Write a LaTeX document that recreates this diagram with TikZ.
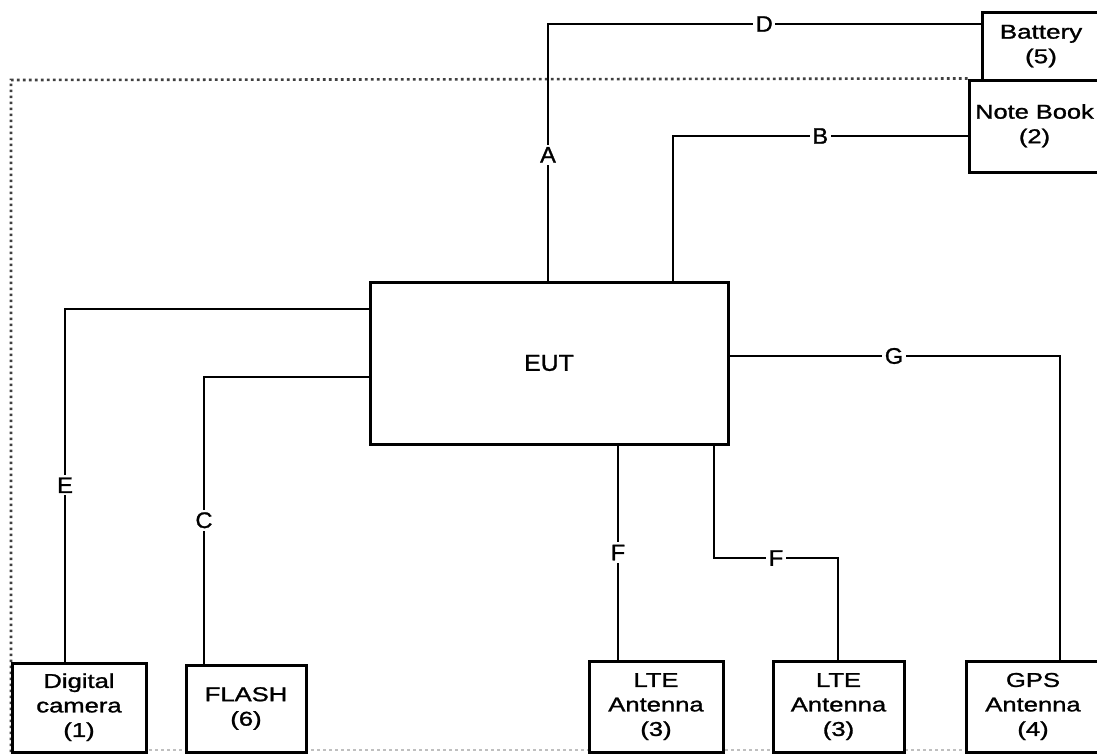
\documentclass[tikz,border=0pt]{standalone}
\usepackage{fontspec}
\setmainfont{Liberation Sans}[FakeBold=1.1]
\usepackage{graphicx}
\newcommand\stk[2][1.28]{\scalebox{#1}[1]{\begin{tabular}{@{}c@{}}#2\end{tabular}}}
\tikzset{
  boxnode/.style={draw=black, line width=3pt, fill=white, inner sep=0pt,
    font=\fontsize{20}{24.5}\selectfont},
  conn/.style={draw=black, line width=2.8pt},
  lab/.style={fill=white, inner sep=2.5pt, font=\fontsize{22.5}{24}\selectfont},
  border/.style={draw=black!75, line width=2.6pt, dash pattern=on 2.6pt off 3.4pt}
}
\newcommand\lb[1]{\scalebox{1.05}[1]{#1}}
\begin{document}
\begin{tikzpicture}[x=1pt, y=-1pt]
\useasboundingbox (0,0) rectangle (1097,753);
\clip (0,0) rectangle (1097,753);
\fill[white] (0,0) rectangle (1097,753);
% faint bottom dotted line
\draw[border, draw=black!25] (11,750) -- (1097,750);
% boxes
\node[boxnode, minimum width=118pt, minimum height=68pt] (bat) at (1041,46) {\stk[1.3]{Battery\\(5)}};
\node[boxnode, minimum width=131pt, minimum height=92pt] (nb) at (1034.5,126) {\stk[1.27]{Note Book\\(2)}};
\draw[border] (nb.north west) -- (11,80) coordinate (tl) -- (11,753) coordinate (bl);
\node[boxnode, minimum width=358pt, minimum height=162pt, font=\fontsize{23}{26}\selectfont] (eut) at (549,363) {\scalebox{1.08}[1]{EUT}};
\node[boxnode, minimum width=134pt, minimum height=89pt] (cam) at (79,707.5) {\stk{Digital\\camera\\(1)}};
\node[boxnode, minimum width=120pt, minimum height=87pt] (fl) at (246,708.5) {\stk{FLASH\\(6)}};
\node[boxnode, minimum width=134pt, minimum height=91pt] (lte1) at (656,706.5) {\stk{LTE\\Antenna\\(3)}};
\node[boxnode, minimum width=131pt, minimum height=91pt] (lte2) at (838.5,706.5) {\stk{LTE\\Antenna\\(3)}};
\node[boxnode, minimum width=134pt, minimum height=91pt] (gps) at (1033,706.5) {\stk{GPS\\Antenna\\(4)}};
% bend coordinates
\coordinate (kA) at (548,24);
\coordinate (kB) at (673,136);
\coordinate (kE) at (65,309);
\coordinate (kC) at (204,377);
\coordinate (kG) at (1060,356);
\coordinate (kF1) at (618,0);
\coordinate (kF2a) at (714,558);
\coordinate (kF2b) at (838,558);
% connectors
\draw[conn] (eut.north -| kA) -- node[lab, pos=0.49]{\lb{A}} (kA) -- node[lab]{\lb{D}} (kA -| bat.west);
\draw[conn] (eut.north -| kB) -- (kB) -- node[lab]{\lb{B}} (kB -| nb.west);
\draw[conn] (eut.west |- kE) -- (kE) -- node[lab]{\lb{E}} (kE |- cam.north);
\draw[conn] (eut.west |- kC) -- (kC) -- node[lab]{\lb{C}} (kC |- fl.north);
\draw[conn] (eut.east |- kG) -- (kG) -- (kG |- gps.north);
\node[lab] (gl) at (894,356) {\lb{G}};
\draw[conn] (eut.south -| kF1) -- node[lab]{\lb{F}} (kF1 |- lte1.north);
\draw[conn] (eut.south -| kF2a) -- (kF2a) -- node[lab]{\lb{F}} (kF2b) -- (kF2b |- lte2.north);
\end{tikzpicture}
\end{document}
